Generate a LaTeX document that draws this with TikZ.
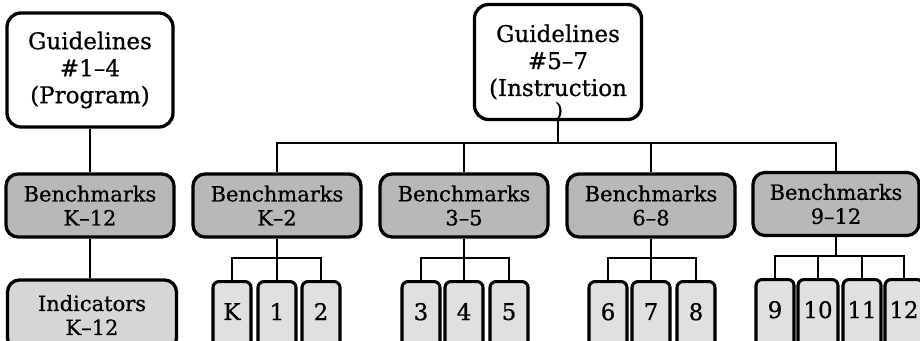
\documentclass[tikz,border=0pt]{standalone}
\usepackage{fontspec}
\setmainfont{DejaVu Serif}[FakeBold=0.7]
\definecolor{benchgray}{HTML}{B8B8B8}
\definecolor{lightgray}{HTML}{E0E0E0}
\definecolor{indgray}{HTML}{D6D6D6}
\tikzset{
  guidebox/.style={draw=black, line width=3.3pt, rounded corners=14pt, fill=white,
    minimum width=166pt, minimum height=114pt, inner sep=0pt, align=center,
    font=\fontsize{23}{27}\selectfont},
  benchbox/.style={draw=black, line width=3.3pt, rounded corners=12pt, fill=benchgray,
    minimum width=168pt, minimum height=63pt, inner sep=0pt, align=center,
    font=\fontsize{21}{24}\selectfont},
  indbox/.style={draw=black, line width=3.3pt, rounded corners=12pt, fill=indgray,
    minimum width=169pt, minimum height=70pt, inner sep=0pt, align=center,
    font=\fontsize{21}{24}\selectfont},
  gradebox/.style={draw=black, line width=3.1pt, rounded corners=6pt, fill=lightgray,
    minimum width=38pt, minimum height=68pt, inner sep=0pt, anchor=north,
    text depth=8pt, font=\fontsize{23}{27}\selectfont},
  conn/.style={draw=black, line width=1.3pt},
}
\begin{document}
\begin{tikzpicture}[x=1pt,y=-1pt]
\useasboundingbox (0,0) rectangle (920,340);
\clip (0,0) rectangle (920,340);
\fill[white] (0,0) rectangle (920,340);

% Guidelines
\node[guidebox] (G1) at (90,70) {Guidelines\\\#1--4\\(Program)};
\node[guidebox, minimum width=167pt, minimum height=115pt] (G2) at (558,62) {Guidelines\\\#5--7\\(Instruction};
\node[font=\fontsize{20}{20}\selectfont, inner sep=0pt] (G2p) at (559,111) {)};

% Benchmarks
\node[benchbox] (BK12) at (90,205.5) {Benchmarks\\K--12};
\node[benchbox] (BK2)  at (277,205.5) {Benchmarks\\K--2};
\node[benchbox] (B35)  at (464,205.5) {Benchmarks\\3--5};
\node[benchbox] (B68)  at (651,205.5) {Benchmarks\\6--8};
\node[benchbox, minimum width=166pt] (B912) at (836,204) {Benchmarks\\9--12};

% Indicators
\node[indbox] (IND) at (92,315) {Indicators\\K--12};

% Grade boxes
\node[gradebox] (gK)  at (232,280) {K};
\node[gradebox] (g1)  at (277,280) {1};
\node[gradebox] (g2)  at (321,280) {2};
\node[gradebox] (g3)  at (421,280) {3};
\node[gradebox] (g4)  at (464,280) {4};
\node[gradebox] (g5)  at (509,280) {5};
\node[gradebox] (g6)  at (608,280) {6};
\node[gradebox] (g7)  at (651,280) {7};
\node[gradebox] (g8)  at (696,280) {8};
\node[gradebox] (g9)  at (775,278) {9};
\node[gradebox, minimum width=40pt] (g10) at (818,278) {10};
\node[gradebox] (g11) at (862,278) {11};
\node[gradebox] (g12) at (904,278) {12};

% Connectors: program branch
\draw[conn] (G1.south) -- (BK12.north);
\draw[conn] (BK12.south) -- (BK12.south |- IND.north);

% Instruction bus
\coordinate (bus) at (558,143);
\draw[conn] (G2.south) -- (bus);
\draw[conn] (BK2.north) |- (bus);
\draw[conn] (B35.north) |- (bus);
\draw[conn] (B68.north) |- (bus);
\draw[conn] (B912.north) |- (bus);

% Grade brackets
\coordinate (bk2) at (277,258);
\draw[conn] (BK2.south) -- (bk2);
\draw[conn] (gK.north) |- (bk2);
\draw[conn] (g1.north) |- (bk2);
\draw[conn] (g2.north) |- (bk2);

\coordinate (b35) at (464,258);
\draw[conn] (B35.south) -- (b35);
\draw[conn] (g3.north) |- (b35);
\draw[conn] (g4.north) |- (b35);
\draw[conn] (g5.north) |- (b35);

\coordinate (b68) at (651,258);
\draw[conn] (B68.south) -- (b68);
\draw[conn] (g6.north) |- (b68);
\draw[conn] (g7.north) |- (b68);
\draw[conn] (g8.north) |- (b68);

\coordinate (b912) at (836,256);
\draw[conn] (B912.south) -- (b912);
\draw[conn] (g9.north) |- (b912);
\draw[conn] (g10.north) |- (b912);
\draw[conn] (g11.north) |- (b912);
\draw[conn] (g12.north) |- (b912);
\end{tikzpicture}
\end{document}
